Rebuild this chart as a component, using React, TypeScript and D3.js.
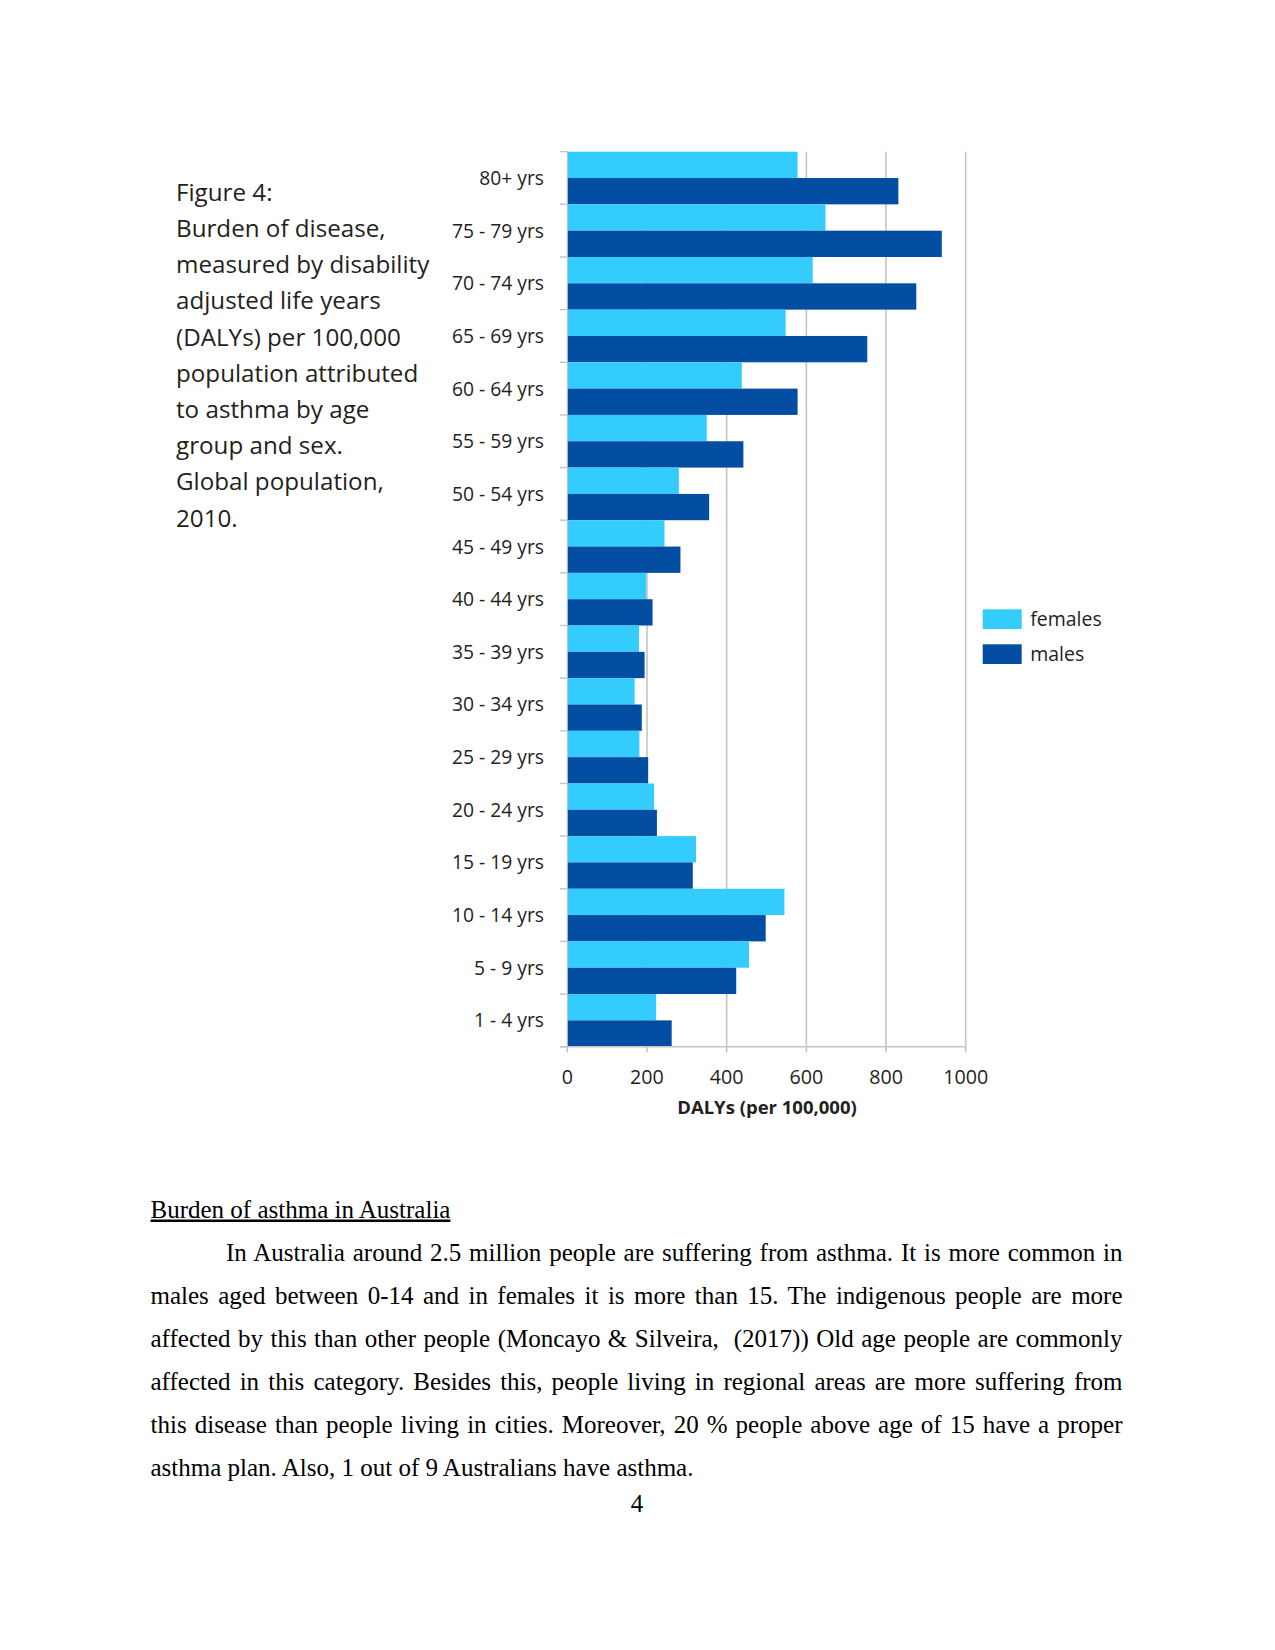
import React, { useLayoutEffect, useRef } from "react";
import * as d3 from "d3";

const categories = [
  "80+ yrs", "75 - 79 yrs", "70 - 74 yrs", "65 - 69 yrs", "60 - 64 yrs",
  "55 - 59 yrs", "50 - 54 yrs", "45 - 49 yrs", "40 - 44 yrs", "35 - 39 yrs",
  "30 - 34 yrs", "25 - 29 yrs", "20 - 24 yrs", "15 - 19 yrs", "10 - 14 yrs",
  "5 - 9 yrs", "1 - 4 yrs",
];
const females = [578, 648, 616, 548, 438, 350, 280, 244, 198, 180, 169, 181, 218, 323, 545, 456, 223];
const males = [831, 940, 876, 753, 578, 442, 356, 284, 214, 194, 187, 203, 225, 315, 498, 424, 262];
const seriesNames = ["females", "males"];
const xTicks = [0, 200, 400, 600, 800, 1000];
const axisTitle = "DALYs (per 100,000)";
const captionLines = [
  "Figure 4:",
  "Burden of disease,",
  "measured by disability",
  "adjusted life years",
  "(DALYs) per 100,000",
  "population attributed",
  "to asthma by age",
  "group and sex.",
  "Global population,",
  "2010.",
];
const heading = "Burden of asthma in Australia";
const paragraph = [
  "In Australia around 2.5 million people are suffering from asthma. It is more common in",
  "males aged between 0-14 and in females it is more than 15. The indigenous people are more",
  "affected by this than other people (Moncayo & Silveira,  (2017)) Old age people are commonly",
  "affected in this category. Besides this, people living in regional areas are more suffering from",
  "this disease than people living in cities. Moreover, 20 % people above age of 15 have a proper",
  "asthma plan. Also, 1 out of 9 Australians have asthma.",
];
const pageNumber = "4";

const FEMALE = "#33CCFD";
const MALE = "#034EA2";
const GRID = "#c4c4c4";
const CHART_FONT = "'Open Sans', 'Noto Sans', sans-serif";
const SERIF = "'Liberation Serif', 'Times New Roman', serif";

export default function App() {
  const x = d3.scaleLinear().domain([0, 1000]).range([567.3, 965.7]);
  const y = d3.scaleBand().domain(categories).range([151.7, 1046.7]).padding(0);
  const ySub = d3.scaleBand().domain(seriesNames).range([0, y.bandwidth()]).padding(0);
  const color = d3.scaleOrdinal<string, string>().domain(seriesNames).range([FEMALE, MALE]);

  const rows = categories.map((c, i) => ({ c, f: females[i], m: males[i] }));
  const boundaries = categories.map((c) => y(c) as number).concat([y.range()[1]]);

  const textLeft = 150.5;
  const textRight = 1122.5;
  const indent = 226;
  const bodySize = 25;
  const lineStep = 43.1;
  const headingBase = 1217.5;

  const lineRefs = useRef<(SVGTextElement | null)[]>([]);

  useLayoutEffect(() => {
    paragraph.forEach((line, i) => {
      const el = lineRefs.current[i];
      if (!el || i === paragraph.length - 1) return;
      el.style.wordSpacing = "0px";
      const w = el.getComputedTextLength();
      const start = i === 0 ? indent : textLeft;
      const spaces = (line.match(/ /g) || []).length;
      if (spaces) el.style.wordSpacing = `${(textRight - start - w) / spaces}px`;
    });
  }, []);

  return (
    <svg
      width={1275}
      height={1650}
      style={{ position: "absolute", left: 0, top: 0, background: "#fff" }}
    >
      {/* caption */}
      <g fontFamily={CHART_FONT} fontSize={24.2} fill="#231f20">
        {captionLines.map((t, i) => (
          <text key={t} x={176} y={200.8 + i * 36.2}>
            {t}
          </text>
        ))}
      </g>

      {/* gridlines */}
      <g>
        {xTicks.filter((t) => t > 0).map((t) => (
          <line key={t} x1={x(t)} x2={x(t)} y1={151.7} y2={1046.7} stroke={GRID} strokeWidth={1.6} />
        ))}
      </g>

      {/* bars */}
      <g>
        {rows.map((r) => (
          <g key={r.c} transform={`translate(0,${y(r.c)})`}>
            <rect x={x(0)} y={ySub("females")} width={x(r.f) - x(0)} height={ySub.bandwidth()} fill={color("females")} />
            <rect x={x(0)} y={ySub("males")} width={x(r.m) - x(0)} height={ySub.bandwidth()} fill={color("males")} />
          </g>
        ))}
      </g>

      {/* y axis ticks & labels */}
      <g>
        {boundaries.map((b, i) => (
          <line key={i} x1={560} x2={x(0)} y1={b} y2={b} stroke={GRID} strokeWidth={1.4} />
        ))}
        <line x1={x(0)} x2={x(0)} y1={151.7} y2={1046.7} stroke={GRID} strokeWidth={1} />
        {categories.map((c) => (
          <text
            key={c}
            x={544}
            y={(y(c) as number) + y.bandwidth() / 2}
            dy="0.36em"
            textAnchor="end"
            fontFamily={CHART_FONT}
            fontSize={19.3}
            fill="#231f20"
          >
            {c}
          </text>
        ))}
      </g>

      {/* x axis */}
      <g>
        <line x1={560} x2={x(1000)} y1={1046.7} y2={1046.7} stroke={GRID} strokeWidth={1.6} />
        {xTicks.map((t) => (
          <g key={t}>
            <line x1={x(t)} x2={x(t)} y1={1046.7} y2={1052.5} stroke={GRID} strokeWidth={1.6} />
            <text
              x={x(t)}
              y={1076.5}
              dy="0.36em"
              textAnchor="middle"
              fontFamily={CHART_FONT}
              fontSize={19.7}
              fill="#231f20"
            >
              {t}
            </text>
          </g>
        ))}
        <text
          x={767}
          y={1107}
          dy="0.36em"
          textAnchor="middle"
          fontFamily={CHART_FONT}
          fontWeight="bold"
          fontSize={18.5}
          fill="#231f20"
        >
          {axisTitle}
        </text>
      </g>

      {/* legend */}
      <g>
        {seriesNames.map((s, i) => (
          <g key={s} transform={`translate(982.7,${609.3 + i * 35})`}>
            <rect x={0} y={0} width={39} height={19.7} fill={color(s)} />
            <text x={47.5} y={9.85} dy="0.36em" fontFamily={CHART_FONT} fontSize={19.5} fill="#231f20">
              {s}
            </text>
          </g>
        ))}
      </g>

      {/* document text */}
      <g fontFamily={SERIF} fontSize={bodySize} fill="#000">
        <text x={textLeft} y={headingBase} textDecoration="underline">
          {heading}
        </text>
        {paragraph.map((line, i) => (
          <text
            key={i}
            ref={(el) => {
              lineRefs.current[i] = el;
            }}
            x={i === 0 ? indent : textLeft}
            y={headingBase + (i + 1) * lineStep}
            style={{ whiteSpace: "pre" }}
          >
            {line}
          </text>
        ))}
        <text x={637} y={1512} textAnchor="middle">
          {pageNumber}
        </text>
      </g>
    </svg>
  );
}
